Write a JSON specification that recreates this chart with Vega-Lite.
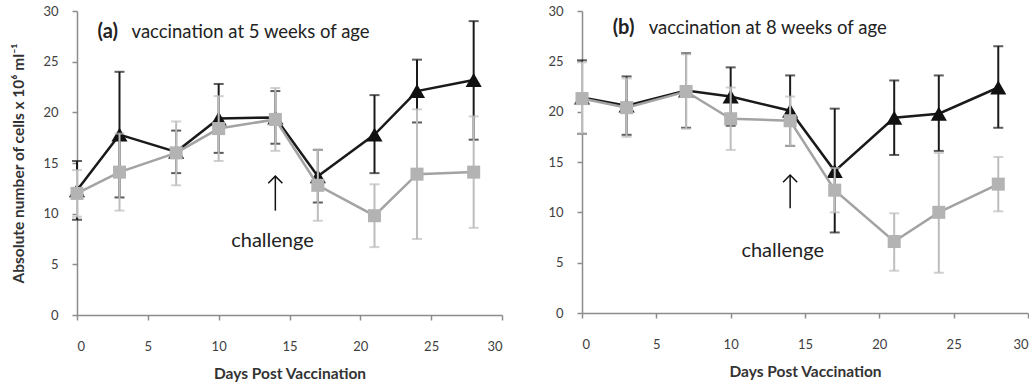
{
  "$schema": "https://vega.github.io/schema/vega-lite/v6.json",
  "background": "white",
  "padding": {"left": 11, "top": 5, "right": 0, "bottom": 0},
  "spacing": 44,
  "config": {
    "view": {"stroke": null},
    "font": "Lato",
    "axis": {
      "grid": false,
      "domainColor": "#8c8c8c",
      "domainWidth": 1.5,
      "tickColor": "#8c8c8c",
      "tickWidth": 1.5,
      "tickSize": 5,
      "labelFont": "Lato",
      "labelFontSize": 13,
      "labelColor": "#404040",
      "titleFont": "Lato",
      "titleFontSize": 15.5,
      "titleFontWeight": "bold",
      "titleColor": "#333333"
    }
  },
  "datasets": {
    "cells": [
      {"panel": "a", "series": "s1", "day": 0, "mean": 12.3, "lo": 9.4, "hi": 15.2},
      {"panel": "a", "series": "s1", "day": 3, "mean": 17.8, "lo": 11.6, "hi": 24.0},
      {"panel": "a", "series": "s1", "day": 7, "mean": 16.1, "lo": 14.0, "hi": 18.2},
      {"panel": "a", "series": "s1", "day": 10, "mean": 19.4, "lo": 16.0, "hi": 22.8},
      {"panel": "a", "series": "s1", "day": 14, "mean": 19.5, "lo": 16.9, "hi": 22.1},
      {"panel": "a", "series": "s1", "day": 17, "mean": 13.7, "lo": 11.1, "hi": 16.3},
      {"panel": "a", "series": "s1", "day": 21, "mean": 17.8, "lo": 14.0, "hi": 21.7},
      {"panel": "a", "series": "s1", "day": 24, "mean": 22.1, "lo": 19.0, "hi": 25.2},
      {"panel": "a", "series": "s1", "day": 28, "mean": 23.2, "lo": 17.3, "hi": 29.0},
      {"panel": "a", "series": "s2", "day": 0, "mean": 12.0, "lo": 9.7, "hi": 14.3},
      {"panel": "a", "series": "s2", "day": 3, "mean": 14.1, "lo": 10.3, "hi": 17.9},
      {"panel": "a", "series": "s2", "day": 7, "mean": 16.0, "lo": 12.8, "hi": 19.1},
      {"panel": "a", "series": "s2", "day": 10, "mean": 18.4, "lo": 15.2, "hi": 21.6},
      {"panel": "a", "series": "s2", "day": 14, "mean": 19.3, "lo": 16.2, "hi": 22.4},
      {"panel": "a", "series": "s2", "day": 17, "mean": 12.8, "lo": 9.3, "hi": 16.3},
      {"panel": "a", "series": "s2", "day": 21, "mean": 9.8, "lo": 6.7, "hi": 12.9},
      {"panel": "a", "series": "s2", "day": 24, "mean": 13.9, "lo": 7.5, "hi": 20.3},
      {"panel": "a", "series": "s2", "day": 28, "mean": 14.1, "lo": 8.6, "hi": 19.6},
      {"panel": "b", "series": "s1", "day": 0, "mean": 21.4, "lo": 17.8, "hi": 25.1},
      {"panel": "b", "series": "s1", "day": 3, "mean": 20.6, "lo": 17.7, "hi": 23.5},
      {"panel": "b", "series": "s1", "day": 7, "mean": 22.1, "lo": 18.4, "hi": 25.8},
      {"panel": "b", "series": "s1", "day": 10, "mean": 21.5, "lo": 18.6, "hi": 24.4},
      {"panel": "b", "series": "s1", "day": 14, "mean": 20.1, "lo": 16.6, "hi": 23.6},
      {"panel": "b", "series": "s1", "day": 17, "mean": 14.1, "lo": 8.0, "hi": 20.3},
      {"panel": "b", "series": "s1", "day": 21, "mean": 19.4, "lo": 15.7, "hi": 23.1},
      {"panel": "b", "series": "s1", "day": 24, "mean": 19.8, "lo": 16.1, "hi": 23.6},
      {"panel": "b", "series": "s1", "day": 28, "mean": 22.4, "lo": 18.4, "hi": 26.5},
      {"panel": "b", "series": "s2", "day": 0, "mean": 21.3, "lo": 17.8, "hi": 24.9},
      {"panel": "b", "series": "s2", "day": 3, "mean": 20.4, "lo": 17.5, "hi": 23.3},
      {"panel": "b", "series": "s2", "day": 7, "mean": 22.0, "lo": 18.3, "hi": 25.7},
      {"panel": "b", "series": "s2", "day": 10, "mean": 19.3, "lo": 16.2, "hi": 22.4},
      {"panel": "b", "series": "s2", "day": 14, "mean": 19.1, "lo": 16.6, "hi": 21.5},
      {"panel": "b", "series": "s2", "day": 17, "mean": 12.2, "lo": 10.0, "hi": 14.4},
      {"panel": "b", "series": "s2", "day": 21, "mean": 7.1, "lo": 4.2, "hi": 9.9},
      {"panel": "b", "series": "s2", "day": 24, "mean": 10.0, "lo": 4.0, "hi": 15.9},
      {"panel": "b", "series": "s2", "day": 28, "mean": 12.8, "lo": 10.1, "hi": 15.5}
    ]
  },
  "hconcat": [
    {
      "width": 425,
      "height": 304,
      "data": {"name": "cells"},
      "transform": [{"filter": "datum.panel == 'a'"}],
      "layer": [
        {
          "transform": [{"filter": "datum.series == 's1'"}],
          "layer": [
            {
              "mark": {"type": "rule", "color": "#1a1a1a", "strokeWidth": 2},
              "encoding": {
                "x": {"field": "day", "type": "quantitative", "scale": {"domain": [0, 30], "nice": false},
                      "axis": {"values": [0, 5, 10, 15, 20, 25, 30], "title": "Days Post Vaccination", "labelPadding": 20, "titlePadding": 13}},
                "y": {"field": "lo", "type": "quantitative", "scale": {"domain": [0, 30], "nice": false},
                      "axis": {"values": [0, 5, 10, 15, 20, 25, 30], "title": "Absolute number of cells x 10⁶ ml⁻¹", "labelPadding": 14, "titlePadding": 16}},
                "y2": {"field": "hi"}
              }
            },
            {"mark": {"type": "tick", "orient": "horizontal", "size": 10, "thickness": 2, "color": "#1a1a1a"},
             "encoding": {"x": {"field": "day", "type": "quantitative"}, "y": {"field": "lo", "type": "quantitative"}}},
            {"mark": {"type": "tick", "orient": "horizontal", "size": 10, "thickness": 2, "color": "#1a1a1a"},
             "encoding": {"x": {"field": "day", "type": "quantitative"}, "y": {"field": "hi", "type": "quantitative"}}},
            {"mark": {"type": "line", "color": "#1a1a1a", "strokeWidth": 2.5},
             "encoding": {"x": {"field": "day", "type": "quantitative"}, "y": {"field": "mean", "type": "quantitative"}}},
            {"mark": {"type": "point", "shape": "triangle-up", "filled": true, "size": 260, "color": "#111111", "opacity": 1},
             "encoding": {"x": {"field": "day", "type": "quantitative"}, "y": {"field": "mean", "type": "quantitative"}}}
          ]
        },
        {
          "transform": [{"filter": "datum.series == 's2'"}],
          "layer": [
            {"mark": {"type": "rule", "color": "#bdbdbd", "strokeWidth": 2},
             "encoding": {"x": {"field": "day", "type": "quantitative"}, "y": {"field": "lo", "type": "quantitative"}, "y2": {"field": "hi"}}},
            {"mark": {"type": "tick", "orient": "horizontal", "size": 10, "thickness": 2, "color": "#bdbdbd"},
             "encoding": {"x": {"field": "day", "type": "quantitative"}, "y": {"field": "lo", "type": "quantitative"}}},
            {"mark": {"type": "tick", "orient": "horizontal", "size": 10, "thickness": 2, "color": "#bdbdbd"},
             "encoding": {"x": {"field": "day", "type": "quantitative"}, "y": {"field": "hi", "type": "quantitative"}}},
            {"mark": {"type": "line", "color": "#a3a3a3", "strokeWidth": 2.5},
             "encoding": {"x": {"field": "day", "type": "quantitative"}, "y": {"field": "mean", "type": "quantitative"}}},
            {"mark": {"type": "point", "shape": "square", "filled": true, "size": 170, "color": "#b3b3b3", "opacity": 1},
             "encoding": {"x": {"field": "day", "type": "quantitative"}, "y": {"field": "mean", "type": "quantitative"}}}
          ]
        },
        {
          "data": {"values": [{}]},
          "layer": [
            {"mark": {"type": "rule", "color": "#111111", "strokeWidth": 1.5},
             "encoding": {"x": {"datum": 14}, "y": {"datum": 10.3}, "y2": {"datum": 13.7}}},
            {"mark": {"type": "point", "shape": "M-1,1L0,0L1,1", "filled": false, "size": 200, "color": "#111111", "strokeWidth": 1.5, "opacity": 1},
             "encoding": {"x": {"datum": 14}, "y": {"datum": 13.7}}},
            {"mark": {"type": "text", "text": "challenge", "fontSize": 20, "font": "Lato", "color": "#222222", "align": "center", "baseline": "middle"},
             "encoding": {"x": {"datum": 13.8}, "y": {"datum": 7.3}}},
            {"mark": {"type": "text", "text": "(a)", "fontSize": 20, "fontWeight": "bold", "font": "Lato", "color": "#222222", "align": "left", "baseline": "middle"},
             "encoding": {"x": {"datum": 1.45}, "y": {"datum": 27.9}}},
            {"mark": {"type": "text", "text": "vaccination at 5 weeks of age", "fontSize": 18.5, "font": "Lato", "color": "#222222", "align": "left", "baseline": "middle", "dx": 34},
             "encoding": {"x": {"datum": 1.45}, "y": {"datum": 27.9}}}
          ]
        }
      ]
    },
    {
      "width": 446,
      "height": 302,
      "data": {"name": "cells"},
      "transform": [{"filter": "datum.panel == 'b'"}],
      "layer": [
        {
          "transform": [{"filter": "datum.series == 's1'"}],
          "layer": [
            {
              "mark": {"type": "rule", "color": "#1a1a1a", "strokeWidth": 2},
              "encoding": {
                "x": {"field": "day", "type": "quantitative", "scale": {"domain": [0, 30], "nice": false},
                      "axis": {"values": [0, 5, 10, 15, 20, 25, 30], "title": "Days Post Vaccination", "labelPadding": 20, "titlePadding": 13}},
                "y": {"field": "lo", "type": "quantitative", "scale": {"domain": [0, 30], "nice": false},
                      "axis": {"values": [0, 5, 10, 15, 20, 25, 30], "title": null, "labelPadding": 14}},
                "y2": {"field": "hi"}
              }
            },
            {"mark": {"type": "tick", "orient": "horizontal", "size": 10, "thickness": 2, "color": "#1a1a1a"},
             "encoding": {"x": {"field": "day", "type": "quantitative"}, "y": {"field": "lo", "type": "quantitative"}}},
            {"mark": {"type": "tick", "orient": "horizontal", "size": 10, "thickness": 2, "color": "#1a1a1a"},
             "encoding": {"x": {"field": "day", "type": "quantitative"}, "y": {"field": "hi", "type": "quantitative"}}},
            {"mark": {"type": "line", "color": "#1a1a1a", "strokeWidth": 2.5},
             "encoding": {"x": {"field": "day", "type": "quantitative"}, "y": {"field": "mean", "type": "quantitative"}}},
            {"mark": {"type": "point", "shape": "triangle-up", "filled": true, "size": 260, "color": "#111111", "opacity": 1},
             "encoding": {"x": {"field": "day", "type": "quantitative"}, "y": {"field": "mean", "type": "quantitative"}}}
          ]
        },
        {
          "transform": [{"filter": "datum.series == 's2'"}],
          "layer": [
            {"mark": {"type": "rule", "color": "#bdbdbd", "strokeWidth": 2},
             "encoding": {"x": {"field": "day", "type": "quantitative"}, "y": {"field": "lo", "type": "quantitative"}, "y2": {"field": "hi"}}},
            {"mark": {"type": "tick", "orient": "horizontal", "size": 10, "thickness": 2, "color": "#bdbdbd"},
             "encoding": {"x": {"field": "day", "type": "quantitative"}, "y": {"field": "lo", "type": "quantitative"}}},
            {"mark": {"type": "tick", "orient": "horizontal", "size": 10, "thickness": 2, "color": "#bdbdbd"},
             "encoding": {"x": {"field": "day", "type": "quantitative"}, "y": {"field": "hi", "type": "quantitative"}}},
            {"mark": {"type": "line", "color": "#a3a3a3", "strokeWidth": 2.5},
             "encoding": {"x": {"field": "day", "type": "quantitative"}, "y": {"field": "mean", "type": "quantitative"}}},
            {"mark": {"type": "point", "shape": "square", "filled": true, "size": 170, "color": "#b3b3b3", "opacity": 1},
             "encoding": {"x": {"field": "day", "type": "quantitative"}, "y": {"field": "mean", "type": "quantitative"}}}
          ]
        },
        {
          "data": {"values": [{}]},
          "layer": [
            {"mark": {"type": "rule", "color": "#111111", "strokeWidth": 1.5},
             "encoding": {"x": {"datum": 14}, "y": {"datum": 10.4}, "y2": {"datum": 13.7}}},
            {"mark": {"type": "point", "shape": "M-1,1L0,0L1,1", "filled": false, "size": 200, "color": "#111111", "strokeWidth": 1.5, "opacity": 1},
             "encoding": {"x": {"datum": 14}, "y": {"datum": 13.7}}},
            {"mark": {"type": "text", "text": "challenge", "fontSize": 20, "font": "Lato", "color": "#222222", "align": "center", "baseline": "middle"},
             "encoding": {"x": {"datum": 13.5}, "y": {"datum": 6.2}}},
            {"mark": {"type": "text", "text": "(b)", "fontSize": 20, "fontWeight": "bold", "font": "Lato", "color": "#222222", "align": "left", "baseline": "middle"},
             "encoding": {"x": {"datum": 2.06}, "y": {"datum": 28.3}}},
            {"mark": {"type": "text", "text": "vaccination at 8 weeks of age", "fontSize": 18.5, "font": "Lato", "color": "#222222", "align": "left", "baseline": "middle", "dx": 36},
             "encoding": {"x": {"datum": 2.06}, "y": {"datum": 28.3}}}
          ]
        }
      ]
    }
  ]
}
